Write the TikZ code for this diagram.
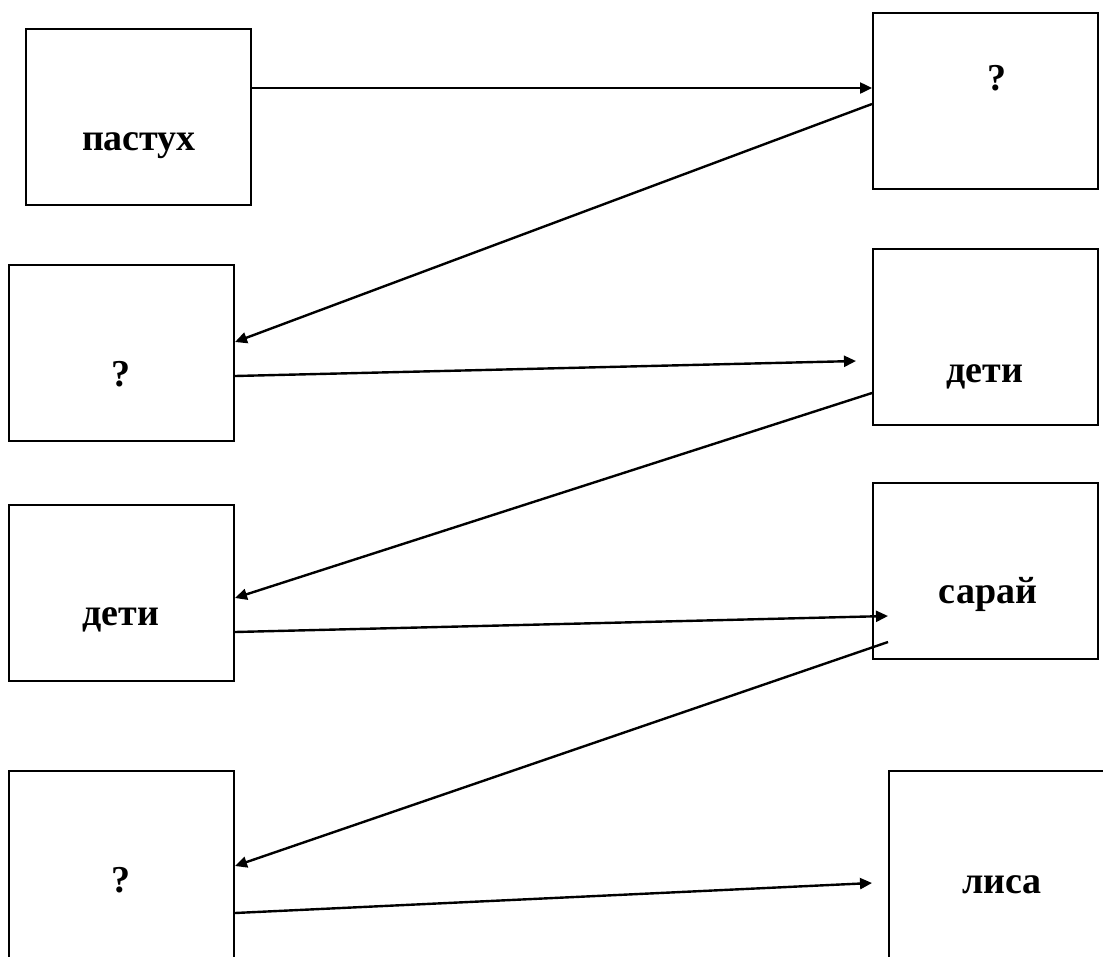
\documentclass[tikz,border=0pt]{standalone}
\usepackage{fontspec}
\setmainfont{Liberation Serif}
\usetikzlibrary{arrows.meta,calc}
\begin{document}
\begin{tikzpicture}[x=1pt,y=1pt,
  box/.style={draw=black,line width=2pt,inner sep=0pt,anchor=north west},
  lbl/.style={inner sep=0pt,anchor=base,font=\fontsize{38}{40}\selectfont\bfseries},
  conn/.style={line width=2.4pt,-{Triangle[length=12pt,width=11pt]}}]
\useasboundingbox (0,0) rectangle (1103,-956);
\clip (0,0) rectangle (1103,-956);
\fill[white] (0,0) rectangle (1103,-956);
% boxes
\node[box,minimum width=225pt,minimum height=176pt] (b1) at (25,-28) {};
\node[box,minimum width=225pt,minimum height=176pt] (b2) at (872,-12) {};
\node[box,minimum width=225pt,minimum height=176pt] (b3) at (8,-264) {};
\node[box,minimum width=225pt,minimum height=176pt] (b4) at (872,-248) {};
\node[box,minimum width=225pt,minimum height=176pt] (b5) at (8,-504) {};
\node[box,minimum width=225pt,minimum height=176pt] (b6) at (872,-482) {};
\node[box,minimum width=225pt,minimum height=230pt] (b7) at (8,-770) {};
\node[box,minimum width=240pt,minimum height=230pt] (b8) at (888,-770) {};
% labels
\node[lbl] (t1) at (139,-150) {пастух};
\node[lbl] (t2) at (997,-90) {?};
\node[lbl] (t3) at (121,-386) {?};
\node[lbl] (t4) at (985,-382) {дети};
\node[lbl] (t5) at (121,-625) {дети};
\node[lbl] (t6) at (988,-603) {сарай};
\node[lbl] (t7) at (121,-892) {?};
\node[lbl] (t8) at (1002,-893) {лиса};
% connectors
\draw[conn] ($(b1.north east)+(0,-60)$) -- ($(b2.north west)+(0,-76)$);
\draw[conn] ($(b2.north west)+(0,-92)$) -- ($(b3.north east)+(0,-78)$);
\draw[conn] ($(b3.north east)+(0,-112)$) -- ($(b4.north west)+(-16,-113)$);
\draw[conn] ($(b4.north west)+(0,-145)$) -- ($(b5.north east)+(0,-94)$);
\draw[conn] ($(b5.north east)+(0,-128)$) -- ($(b6.north west)+(16,-134)$);
\draw[conn] ($(b6.north west)+(16,-160)$) -- ($(b7.north east)+(0,-96)$);
\draw[conn] ($(b7.north east)+(0,-143)$) -- ($(b8.north west)+(-16,-113)$);
\end{tikzpicture}
\end{document}
